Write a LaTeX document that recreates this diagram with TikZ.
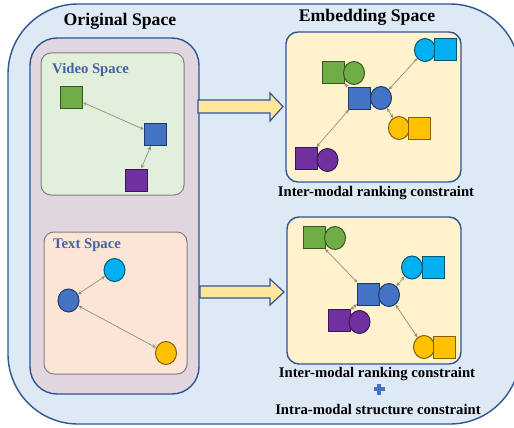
\documentclass[tikz,border=0pt]{standalone}
\usepackage{fontspec}
\setmainfont{Liberation Serif}
\usepackage{tikz}
\usetikzlibrary{arrows.meta,calc,positioning,shapes.geometric}
\definecolor{outerfill}{HTML}{DEE9F6}
\definecolor{frameblue}{HTML}{2F5597}
\definecolor{mauve}{HTML}{E1D5DF}
\definecolor{videofill}{HTML}{E2EFDA}
\definecolor{textfill}{HTML}{FBE5D6}
\definecolor{embfill}{HTML}{FFF2CC}
\definecolor{bigarrow}{HTML}{FFE699}
\definecolor{labelblue}{HTML}{41649F}
\definecolor{linkgray}{HTML}{948E7E}
\definecolor{cgreen}{HTML}{70AD47}
\definecolor{cblue}{HTML}{4472C4}
\definecolor{cpurple}{HTML}{7030A0}
\definecolor{ccyan}{HTML}{00B0F0}
\definecolor{cyellow}{HTML}{FFC000}
\newcommand{\smallbf}{\fontsize{14.7}{16}\selectfont\bfseries}
\newcommand{\bigbf}{\fontsize{17.7}{20}\selectfont\bfseries}

\begin{document}
\begin{tikzpicture}[x=1pt,y=-1pt,
  sq/.style={draw=#1!50!black,fill=#1,line width=1pt,rectangle,inner sep=0pt,minimum size=22pt},
  dot/.style={draw=#1!50!black,fill=#1,line width=1pt,ellipse,inner sep=0pt,minimum width=21pt,minimum height=23pt},
  link/.style={{Stealth[length=4pt,width=3.6pt]}-{Stealth[length=4pt,width=3.6pt]},draw=linkgray,line width=0.7pt},
  panel/.style={draw=frameblue,line width=1.4pt,rounded corners=12pt},
  subbox/.style={draw=gray,line width=1pt,rounded corners=10pt},
  caption/.style={font=\smallbf,inner sep=0pt}]
\useasboundingbox (0,0) rectangle (514,428);
% outer frame and left column
\draw[panel,fill=outerfill,rounded corners=70pt] (8,4) rectangle (520,424);
\draw[panel,fill=mauve,rounded corners=27pt] (30,38) rectangle (199,394);
\node[font=\bigbf,inner sep=0pt] (orig) at (120,21) {Original Space};
\node[font=\bigbf,inner sep=0pt] (emb) at (367,17) {Embedding Space};

% video space
\draw[subbox,fill=videofill] (41,53) rectangle (184,195);
\node[font=\smallbf,text=labelblue,anchor=west,inner sep=0pt] (vlab) at (52,70) {Video Space};
\node[sq=cgreen] (vg) at (71.5,97.5) {};
\node[sq=cblue] (vb) at (155.5,134.5) {};
\node[sq=cpurple] (vp) at (136.5,180) {};
\draw[link] (vb) -- (vg);
\draw[link] (vb) -- (vp);

% text space
\draw[subbox,fill=textfill] (44,232) rectangle (187,374);
\node[font=\smallbf,text=labelblue,anchor=west,inner sep=0pt] (tlab) at (53,245) {Text Space};
\node[dot=ccyan] (tc) at (114.5,270) {};
\node[dot=cblue] (tb) at (68.5,300.5) {};
\node[dot=cyellow] (ty) at (166,353) {};
\draw[link] (tc) -- (tb);
\draw[link] (tb) -- (ty);

% big arrows
\draw[fill=bigarrow,draw=frameblue,line width=1.2pt,line join=miter]
  (198,100) -- (270,100) -- (270,93) -- (283,106.5) -- (270,121) -- (270,113) -- (198,113) -- cycle;
\draw[fill=bigarrow,draw=frameblue,line width=1.2pt,line join=miter]
  (200,286) -- (270,286) -- (270,279) -- (284,292) -- (270,305) -- (270,298) -- (200,298) -- cycle;

% embedding panel 1
\draw[panel,fill=embfill] (286,32) rectangle (461,182);
\node[sq=cgreen] (e1gs) at (333.5,72.5) {};
\node[dot=cgreen] (e1gc) at (354,73) {};
\node[sq=cblue] (e1bs) at (359,98) {};
\node[dot=cblue] (e1bc) at (381,98) {};
\node[dot=ccyan] (e1cc) at (425,50) {};
\node[sq=ccyan] (e1cs) at (445,50) {};
\node[dot=cyellow] (e1yc) at (399,128) {};
\node[sq=cyellow] (e1ys) at (419.5,128) {};
\node[sq=cpurple] (e1ps) at (306.5,158.5) {};
\node[dot=cpurple] (e1pc) at (327.5,160) {};
\draw[link] (e1bs) -- (e1gs);
\draw[link] (e1bc) -- (e1cc);
\draw[link] (e1bc) -- (e1yc);
\draw[link] (e1bs) -- (e1ps);
\node[caption] (cap1) at (376,193) {Inter-modal ranking constraint};

% embedding panel 2
\draw[panel,fill=embfill] (287,217) rectangle (461,364);
\node[sq=cgreen] (e2gs) at (314,237.5) {};
\node[dot=cgreen] (e2gc) at (335,238) {};
\node[sq=cblue] (e2bs) at (368.5,294) {};
\node[dot=cblue] (e2bc) at (389,295) {};
\node[dot=ccyan] (e2cc) at (412,267.5) {};
\node[sq=ccyan] (e2cs) at (433,267.5) {};
\node[sq=cpurple] (e2ps) at (339,320) {};
\node[dot=cpurple] (e2pc) at (359.5,322) {};
\node[dot=cyellow] (e2yc) at (424,347) {};
\node[sq=cyellow] (e2ys) at (444.5,347) {};
\draw[link] (e2bs) -- (e2gs);
\draw[link] (e2bs) -- (e2ps);
\draw[link] (e2bc) -- (e2cc);
\draw[link] (e2bc) -- (e2yc);
\node[caption] (cap2) at (377,374) {Inter-modal ranking constraint};
\fill[cblue] (373.5,387) rectangle (384.5,391);
\fill[cblue] (377,383.5) rectangle (381,394.5);
\node[caption] (cap3) at (378,409) {Intra-modal structure constraint};
\end{tikzpicture}
\end{document}
